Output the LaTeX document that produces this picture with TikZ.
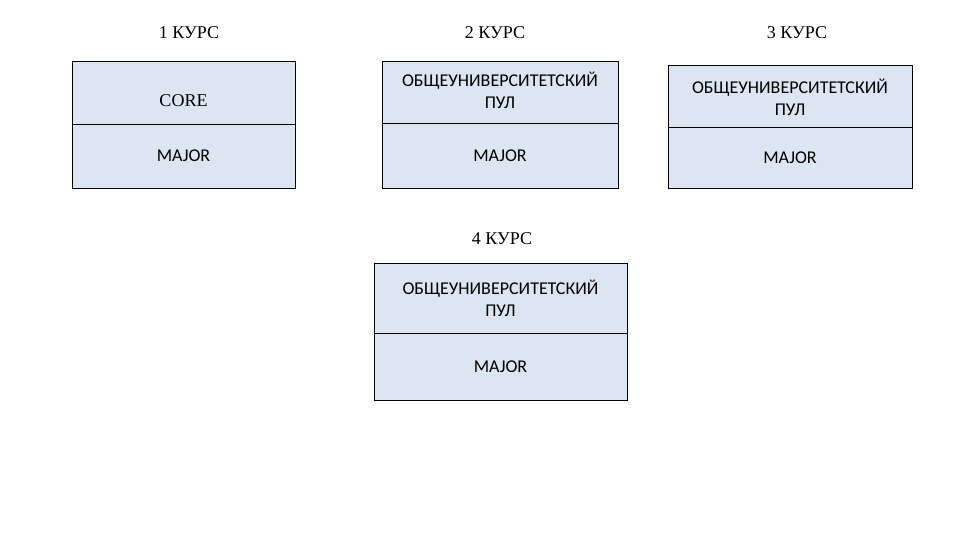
\documentclass[tikz,border=0pt]{standalone}
\usepackage{fontspec}
\setmainfont{Liberation Serif}
\newfontfamily\cellfont{Carlito}
\usetikzlibrary{positioning}
\definecolor{cellblue}{HTML}{DCE6F2}

\begin{document}
\begin{tikzpicture}[
  x=1pt, y=-1pt,
  cell/.style={draw, fill=cellblue, line width=1pt, inner sep=0pt,
    outer sep=0pt, align=center, font=\cellfont\fontsize{18}{22}\selectfont},
  year/.style={font=\fontsize{18}{20}\selectfont}
]
  \useasboundingbox (0,0) rectangle (960,540);

  % 1 course
  \node[year] (y1) at (189,33) {1 КУРС};
  \node[cell, minimum width=223pt, minimum height=63pt, anchor=north west,
    font=\fontsize{18}{22}\selectfont, text height=26pt, text depth=0pt] (core1) at (72,62) {CORE};
  \node[cell, minimum width=223pt, minimum height=63pt, below=0pt of core1] (major1) {\raisebox{1pt}{MAJOR}};

  % 2 course
  \node[year] (y2) at (495,33) {2 КУРС};
  \node[cell, minimum width=236pt, minimum height=62pt, anchor=north west] (pool2) at (382,62)
    {\raisebox{3pt}{\begin{tabular}{@{}c@{}}ОБЩЕУНИВЕРСИТЕТСКИЙ\\ПУЛ\end{tabular}}};
  \node[cell, minimum width=236pt, minimum height=64pt, below=0pt of pool2] (major2) {MAJOR};

  % 3 course
  \node[year] (y3) at (797,33) {3 КУРС};
  \node[cell, minimum width=244pt, minimum height=62pt, anchor=north west] (pool3) at (668,66)
    {ОБЩЕУНИВЕРСИТЕТСКИЙ\\ПУЛ};
  \node[cell, minimum width=244pt, minimum height=60pt, below=0pt of pool3] (major3) {MAJOR};

  % 4 course
  \node[year] (y4) at (502,239) {4 КУРС};
  \node[cell, minimum width=253pt, minimum height=70pt, anchor=north west] (pool4) at (374,263)
    {ОБЩЕУНИВЕРСИТЕТСКИЙ\\ПУЛ};
  \node[cell, minimum width=253pt, minimum height=67pt, below=0pt of pool4] (major4) {\raisebox{-1pt}{MAJOR}};
\end{tikzpicture}
\end{document}
